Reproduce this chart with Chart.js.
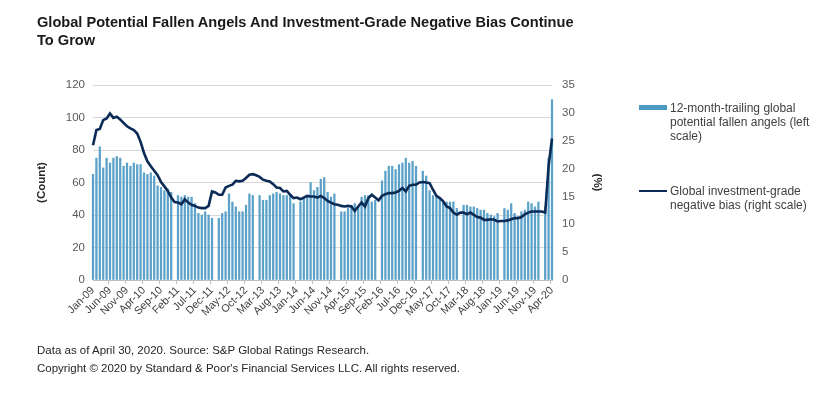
<!DOCTYPE html>
<html>
<head>
<meta charset="utf-8">
<script src="https://cdn.jsdelivr.net/npm/chart.js@4.4.1/dist/chart.umd.min.js"></script>
<style>
  body { margin: 0; background: #fff; font-family: "Liberation Sans", Arial, sans-serif; }
  #wrap { position: relative; width: 829px; height: 395px; overflow: hidden; }
  #myChart { position: absolute; left: 0; top: 0; }
  .title { position: absolute; left: 37px; top: 13px; font-weight: bold; font-size: 14.6px; line-height: 18px; color: #1a1a1a; }
  .legend { position: absolute; left: 670px; font-size: 12px; line-height: 14px; color: #404040; }
  .sw { position: absolute; left: 639px; }
  .foot { position: absolute; left: 37px; font-size: 11.5px; color: #262626; }
</style>
</head>
<body>
<div id="wrap">
  <canvas id="myChart" width="829" height="395"></canvas>
  <div class="title">Global Potential Fallen Angels And Investment-Grade Negative Bias Continue<br>To Grow</div>
  <div class="sw" style="top:105px;width:28px;height:5px;background:#4a9ac1"></div>
  <div class="legend" style="top:101px">12-month-trailing global<br>potential fallen angels (left<br>scale)</div>
  <div class="sw" style="top:190px;width:28px;height:2px;background:#0b2b57"></div>
  <div class="legend" style="top:184px">Global investment-grade<br>negative bias (right scale)</div>
  <div class="foot" style="top:344px">Data as of April 30, 2020. Source: S&amp;P Global Ratings Research.</div>
  <div class="foot" style="top:362px">Copyright © 2020 by Standard &amp; Poor's Financial Services LLC. All rights reserved.</div>
</div>
<script>
const monthNames=['Jan','Feb','Mar','Apr','May','Jun','Jul','Aug','Sep','Oct','Nov','Dec'];
const years=['09','10','11','12','13','14','15','16','17','18','19','20'];
const months=[];
years.forEach(y=>monthNames.forEach(m=>months.push(m+'-'+y)));
months.length=136; // Jan-09 .. Apr-20

// 12-month-trailing global potential fallen angels (count, left scale)
const fallenAngels=[65,75,82,69,75,72,75,76,75,70,72,70,
  72,71,71,66,65,66,64,58,57,55,56,54,
  null,52,51,52,51,51,47,41,40,42,40,38,
  null,38,41,42,53,48,45,42,42,46,53,52,
  null,52,49,49,52,53,54,53,52,52,52,47,
  null,48,51,52,60,55,57,62,63,54,51,53,
  null,42,42,44,46,47,45,51,52,52,48,49,
  null,61,67,70,70,68,71,72,75,72,73,70,
  null,67,64,55,52,51,50,48,48,48,48,44,
  null,46,46,45,45,44,43,43,41,40,39,41,
  null,44,43,47,41,39,42,43,48,47,45,48,
  null,45,75,111];

// Global investment-grade negative bias (%, right scale)
const negativeBias=[24.2,26.9,27.1,28.7,29,29.9,29.1,29.3,28.8,28.2,27.6,27.2,
  26.9,26.3,24.8,22.8,21.3,20.4,19.6,18.8,17.6,16.8,16,14.8,
  14,13.9,13.6,14.5,13.9,13.5,13.3,13,12.9,12.9,13.3,15.9,
  15.7,15.3,15.3,16.6,16.9,17.1,17.8,17.7,17.8,18.3,18.9,19,
  18.8,18.5,18,17.8,17.7,17.2,16.6,16.5,15.9,16,15.3,14.7,
  14.8,14.5,14.8,15.1,15,15,14.8,15.1,14.7,14.2,13.9,13.6,
  13.5,13.3,13.2,13.3,13.2,12.4,13.2,13.9,13.2,14.7,15.3,14.8,
  14.3,15.1,15.4,15.6,15.6,15.7,16,16.5,15.9,16.9,17.1,17.1,
  17.5,17.6,17.5,17.4,16.2,15.1,14.7,14.1,13.2,12.9,12.1,11.7,
  12.1,12.1,11.8,12.1,11.7,11.3,11.2,10.8,10.8,10.9,10.8,10.5,
  10.6,10.6,10.7,10.9,11.1,11.1,11.3,11.8,12.1,12.3,12.3,12.3,
  12.3,12.1,20.5,25.4];

const countTicks=[0,20,40,60,80,100,120];
const pctTicks=[0,5,10,15,20,25,30,35];

const tickFont={family:'"Liberation Sans", Arial, sans-serif',size:11.5};

const config={
  type:'bar',
  data:{
    labels:months,
    datasets:[{
      type:'line',
      label:'Global investment-grade negative bias (right scale)',
      data:negativeBias,
      yAxisID:'y1',
      borderColor:'#0b2b57',
      borderWidth:2.6,
      pointRadius:0,
      tension:0,
      clip:false,
      order:0
    },{
      label:'12-month-trailing global potential fallen angels (left scale)',
      data:fallenAngels,
      yAxisID:'y',
      backgroundColor:'#5ba1c8',
      barThickness:1.6,
      clip:false,
      order:1
    }]
  },
  options:{
    responsive:false,
    animation:false,
    layout:{padding:{left:30,right:217,top:85,bottom:50}},
    plugins:{legend:{display:false},tooltip:{enabled:false}},
    scales:{
      x:{
        offset:false,
        grid:{
          drawOnChartArea:false,
          tickLength:4,
          color:(c)=>c.index%5===0?'#bfbfbf':'rgba(0,0,0,0)'
        },
        border:{color:'#bfbfbf'},
        ticks:{
          autoSkip:false,
          maxRotation:45,minRotation:45,
          padding:0,
          color:'#404040',
          font:{family:tickFont.family,size:10.8},
          callback:(v,i)=>i%5===0?months[i]:''
        },
        afterFit:(s)=>{s.height=65;}
      },
      y:{
        position:'left',
        min:0,max:120,
        afterBuildTicks:(s)=>{s.ticks=countTicks.map(v=>({value:v}));},
        grid:{color:'#d9d9d9',drawTicks:false},
        border:{display:false},
        ticks:{color:'#595959',font:tickFont,padding:8},
        title:{display:true,text:'(Count)',color:'#262626',font:{family:tickFont.family,size:11.5,weight:'bold'},padding:{top:5,bottom:0}},
        afterFit:(s)=>{s.width=63;}
      },
      y1:{
        position:'right',
        min:0,max:35,
        afterBuildTicks:(s)=>{s.ticks=pctTicks.map(v=>({value:v}));},
        grid:{drawOnChartArea:false,drawTicks:false},
        border:{display:false},
        ticks:{color:'#595959',font:tickFont,padding:10},
        title:{display:true,text:'(%)',color:'#262626',font:{family:tickFont.family,size:11.5,weight:'bold'},padding:{top:8,bottom:0}},
        afterFit:(s)=>{s.width=60;}
      }
    }
  }
};

const ctx=document.getElementById('myChart').getContext('2d');
new Chart(ctx,config);
</script>
</body>
</html>
